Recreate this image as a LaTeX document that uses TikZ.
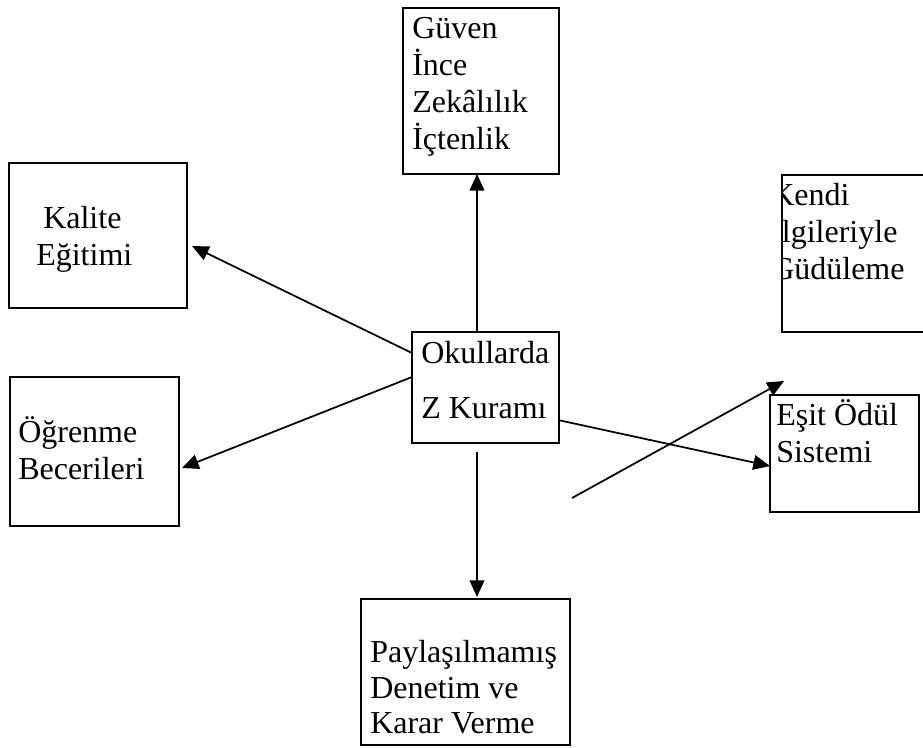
\documentclass[tikz,border=0pt]{standalone}
\usepackage{fontspec}
\setmainfont{Liberation Serif}
\usetikzlibrary{arrows.meta}
\usetikzlibrary{calc}
\tikzset{
  box/.style = {rectangle, draw=black, line width=1.5pt,
    inner sep=0pt, outer sep=0pt},% kutu
  lbl/.style = {anchor=base west, inner sep=0pt,
    font=\fontsize{24}{28}\selectfont},% kutu metni
  arr/.style = {line width=1.3pt, -{Triangle[length=12.5pt,width=11pt]}}% ok
}
\begin{document}
\begin{tikzpicture}[x=0.75pt, y=-0.75pt]
      \useasboundingbox (0,0) rectangle (923,747);
      % kutular
      \node [box, minimum width=117pt, minimum height=124.5pt] (guven) at (481,91) {};
      \node [box, minimum width=133.5pt, minimum height=108.75pt] (kalite) at (98,235.5) {};
      \node [box, minimum width=126.75pt, minimum height=111.75pt] (ogrenme) at (94.5,451.5) {};
      \node [box, minimum width=110.25pt, minimum height=83.25pt] (ok) at (485.5,387.5) {};
      \node [box, minimum width=112.5pt, minimum height=117.75pt] (kendi) at (857,253.5) {};
      \node [box, minimum width=111.75pt, minimum height=87.75pt] (esit) at (844.5,453.5) {};
      \node [box, minimum width=156.75pt, minimum height=109.5pt] (pay) at (465.5,672) {};
      % metinler
      \foreach \t [count=\i] in {Güven,İnce,Zekâlılık,İçtenlik}
        \node [lbl] (g\i) at (412,{1+37*\i}) {\t};
      \node [lbl] (k1) at (43,228) {Kalite};
      \node [lbl] (k2) at (36,265) {Eğitimi};
      \node [lbl] (o1) at (18,442) {Öğrenme};
      \node [lbl] (o2) at (18,479) {Becerileri};
      \node [lbl] (z1) at (421,363) {Okullarda};
      \node [lbl] (z2) at (421,418) {Z Kuramı};
      \begin{scope}
        \clip (kendi.south west) rectangle (kendi.north east);
        \foreach \t [count=\i] in {Kendi,İlgileriyle,Güdüleme}
          \node [lbl] (d\i) at (771,{168+37*\i}) {\t};
      \end{scope}
      \node [lbl] (e1) at (776,425) {Eşit Ödül};
      \node [lbl] (e2) at (776,462) {Sistemi};
      \foreach \t [count=\i] in {Paylaşılmamış,Denetim ve,Karar Verme}
        \node [lbl] (p\i) at (370,{627+35.5*\i}) {\t};
      % oklar
      \coordinate (tail) at (572,498);
      \draw [arr] ($(ok.north west)+(65,0)$) -- ($(guven.south west)+(74,0)$);
      \draw [arr] ($(ok.north west)+(0,21)$) -- ($(kalite.south east)+(5,-62)$);
      \draw [arr] ($(ok.north west)+(0,45)$) -- ($(ogrenme.north east)+(3,91)$);
      \draw [arr] ($(ok.south west)+(65,9)$) -- ($(pay.north west)+(116,-2)$);
      \draw [arr] ($(ok.south east)+(-1,-23)$) -- ($(esit.north west)+(0,71)$);
      \draw [arr] (tail) -- ($(kendi.south west)+(2,49)$);
\end{tikzpicture}
\end{document}
